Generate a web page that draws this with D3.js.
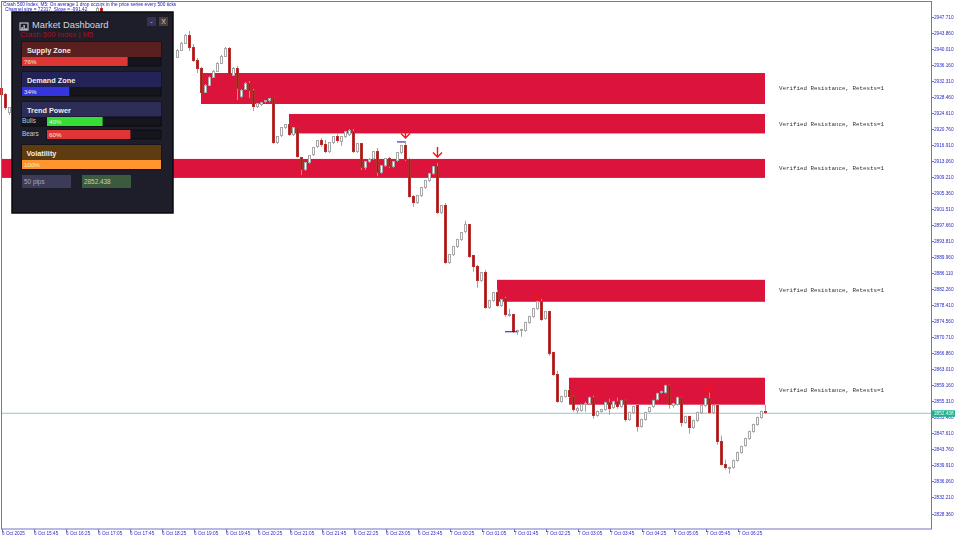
<!DOCTYPE html>
<html>
<head>
<meta charset="utf-8">
<style>
  html, body { margin: 0; padding: 0; background: #fff; }
  svg { display: block; font-family: "Liberation Sans", sans-serif; filter: blur(0.3px); }
  .axis path, .axis line { stroke: #7272c6; shape-rendering: crispEdges; }
  .axis text { fill: #2a2ac0; font-size: 4.7px; font-family: "Liberation Sans", sans-serif; }
</style>
<script src="https://cdnjs.cloudflare.com/ajax/libs/d3/7.8.5/d3.min.js"></script>
</head>
<body>
<svg id="chart" width="960" height="540"></svg>
<script>
// candles, the ones hidden behind the panel are left out
const barIndex = [0, 1, 2, 24, 25].concat(d3.range(44, 192));
const barOpen = [2930.58,2928.90,2924.58,2948.82,2949.78,
  2938.02,2939.70,2941.38,2943.30,2940.42,2937.30,2935.38,2929.62,2931.30,2933.22,
  2934.66,2936.58,2938.26,2940.18,2933.70,2935.38,2928.42,2930.34,2931.78,2930.10,
  2926.02,2926.50,2927.22,2927.46,2928.18,2917.38,2919.06,2920.98,2921.70,2919.30,
  2920.98,2913.78,2910.90,2912.58,2914.50,2916.42,2917.86,2916.90,2915.22,2917.38,
  2918.82,2917.62,2918.82,2919.30,2920.02,2915.22,2917.14,2911.38,2912.82,2913.54,
  2915.22,2910.18,2911.86,2913.54,2911.62,2913.06,2914.98,2916.66,2913.30,2904.42,
  2902.98,2904.66,2906.58,2908.26,2909.94,2911.62,2900.58,2902.26,2888.58,2890.50,
  2892.42,2894.10,2896.02,2897.70,2890.26,2887.62,2884.26,2886.18,2877.78,2879.46,
  2881.38,2878.26,2879.94,2875.86,2876.10,2872.02,2872.26,2872.26,2874.18,2875.62,
  2877.54,2879.22,2875.14,2876.82,2866.98,2861.70,2855.22,2856.42,2857.86,2856.42,
  2853.06,2853.06,2854.50,2854.74,2856.18,2851.86,2852.82,2853.30,2854.98,2853.78,
  2855.22,2854.02,2855.46,2850.90,2852.58,2854.26,2849.22,2850.90,2852.82,2854.02,
  2855.70,2857.38,2857.38,2859.06,2854.26,2854.50,2856.18,2850.18,2851.62,2848.98,
  2850.66,2852.58,2854.26,2855.94,2852.58,2854.26,2845.62,2840.10,2839.14,2839.38,
  2841.06,2842.98,2844.66,2846.34,2848.02,2849.70,2851.38,2852.82];
const barHigh = [2931.06,2929.38,2926.02,2950.02,2950.26,
  2939.94,2941.62,2943.54,2944.26,2941.14,2937.78,2935.62,2931.54,2933.46,2934.90,
  2936.82,2938.50,2940.42,2940.42,2935.62,2935.86,2930.34,2932.02,2932.26,2930.34,
  2926.98,2927.22,2927.70,2928.18,2928.42,2919.06,2921.22,2921.94,2921.94,2921.22,
  2921.22,2914.02,2912.82,2914.50,2916.42,2918.10,2918.58,2918.10,2917.62,2919.06,
  2919.54,2919.06,2920.26,2920.74,2920.74,2917.38,2917.38,2913.06,2913.78,2915.46,
  2916.18,2912.10,2913.78,2914.02,2913.06,2915.22,2916.90,2917.86,2913.78,2904.90,
  2904.90,2906.82,2908.50,2910.18,2911.86,2912.58,2902.50,2902.98,2890.74,2892.66,
  2894.34,2896.02,2898.66,2897.94,2890.50,2888.10,2886.42,2886.90,2879.70,2881.62,
  2882.10,2879.94,2880.42,2877.54,2876.34,2872.50,2872.74,2874.42,2875.86,2877.78,
  2879.46,2879.94,2877.06,2877.06,2867.22,2862.66,2856.66,2858.10,2858.10,2856.66,
  2854.02,2854.74,2855.22,2856.42,2856.66,2853.06,2853.54,2855.22,2855.94,2855.46,
  2856.18,2855.70,2855.70,2852.82,2854.26,2854.50,2851.14,2852.82,2854.02,2855.70,
  2857.38,2857.86,2859.30,2859.30,2854.98,2856.42,2856.42,2851.86,2851.86,2850.90,
  2852.82,2854.50,2856.18,2857.38,2854.50,2854.50,2847.06,2841.30,2839.62,2841.30,
  2843.22,2844.66,2846.58,2848.26,2849.94,2851.62,2853.06,2854.50];
const barLow = [2928.66,2925.30,2924.10,2948.58,2948.58,
  2937.78,2939.46,2941.14,2939.46,2936.82,2934.18,2929.38,2929.38,2931.06,2932.98,
  2934.42,2936.34,2938.02,2933.46,2933.46,2927.70,2928.18,2930.10,2928.18,2925.06,
  2925.78,2926.26,2926.98,2927.22,2917.14,2917.14,2918.82,2920.74,2919.06,2919.06,
  2913.78,2909.70,2910.66,2912.34,2914.26,2916.18,2916.42,2914.98,2914.98,2917.14,
  2917.38,2916.66,2918.58,2919.06,2914.98,2914.98,2910.90,2910.90,2912.58,2913.30,
  2909.46,2909.94,2911.62,2911.38,2911.38,2912.82,2914.74,2913.06,2904.18,2902.02,
  2902.74,2904.42,2906.34,2908.02,2909.70,2900.34,2900.34,2888.34,2888.34,2890.26,
  2892.18,2893.86,2895.78,2889.78,2886.42,2882.58,2884.02,2877.54,2877.54,2879.22,
  2878.02,2878.02,2875.62,2875.62,2871.78,2871.30,2870.82,2872.02,2873.94,2875.38,
  2877.30,2874.66,2874.90,2866.26,2861.46,2854.98,2854.98,2856.18,2856.18,2852.82,
  2852.34,2852.82,2852.82,2854.50,2851.14,2851.62,2852.58,2853.06,2852.10,2853.54,
  2853.54,2853.78,2850.42,2850.66,2852.34,2848.02,2848.98,2850.66,2852.58,2853.78,
  2855.46,2857.14,2857.14,2853.54,2853.78,2854.26,2849.22,2849.94,2847.54,2848.74,
  2850.42,2852.34,2854.02,2852.34,2852.34,2844.90,2839.86,2838.90,2837.94,2839.14,
  2840.82,2842.74,2844.42,2846.10,2847.78,2849.46,2851.14,2852.34];
const barClose = [2928.90,2925.78,2925.78,2949.78,2948.82,
  2939.70,2941.38,2943.30,2940.42,2937.30,2935.38,2929.62,2931.30,2933.22,2934.66,
  2936.58,2938.26,2940.18,2933.70,2935.38,2930.58,2930.10,2931.78,2930.10,2926.02,
  2926.74,2926.98,2927.46,2927.94,2917.38,2918.82,2920.98,2921.70,2919.30,2920.98,
  2914.02,2910.90,2912.58,2914.26,2916.18,2917.86,2916.90,2915.22,2917.38,2918.82,
  2917.86,2918.82,2920.02,2920.26,2915.22,2917.14,2911.38,2912.82,2913.30,2915.22,
  2910.18,2911.86,2913.54,2911.62,2912.82,2914.98,2916.66,2913.30,2904.42,2902.98,
  2904.66,2906.58,2908.26,2909.94,2911.62,2900.58,2902.26,2888.58,2890.50,2892.42,
  2894.10,2895.78,2897.70,2890.02,2887.62,2884.26,2886.18,2877.78,2879.46,2881.38,
  2878.26,2879.70,2876.10,2876.10,2872.02,2872.26,2872.50,2874.18,2875.62,2877.54,
  2879.22,2874.90,2876.82,2866.74,2861.70,2855.22,2856.42,2857.86,2856.42,2853.30,
  2853.54,2854.50,2854.74,2856.18,2851.86,2852.82,2853.30,2854.98,2853.54,2855.22,
  2854.02,2855.46,2850.90,2852.58,2854.02,2849.22,2850.90,2852.58,2853.78,2855.46,
  2857.14,2857.62,2859.06,2854.50,2854.74,2856.18,2850.18,2851.62,2848.98,2850.66,
  2852.58,2854.26,2855.94,2852.58,2854.26,2845.62,2840.10,2839.38,2839.38,2841.06,
  2842.98,2844.42,2846.34,2848.02,2849.70,2851.38,2852.82,2852.58];

// resistance zones
const zoneStart = [50, 72, 0, 124, 142];
const zoneTop = [2934.18, 2924.34, 2913.54, 2884.50, 2860.98];
const zoneBottom = [2926.74, 2919.66, 2908.98, 2879.22, 2854.50];
const zoneLabels = ['Verified Resistance, Retests=1', 'Verified Resistance, Retests=1',
  'Verified Resistance, Retests=1', 'Verified Resistance, Retests=1', 'Verified Resistance, Retests=1'];
const zoneLabelPrice = [2930.22, 2921.34, 2910.77, 2881.46, 2857.44];

// sell arrows and the short blue lines
const arrowBar = [101, 109, 134, 177];
const arrowPrice = [2920.98, 2916.42, 2882.30, 2860.20];
const dashFrom = [99, 126];
const dashTo = [101, 129];
const dashPrice = [2917.62, 2872.02];

const bidPrice = 2852.438;

const priceTicks = [2947.71, 2943.86, 2940.01, 2936.16, 2932.31, 2928.46, 2924.61, 2920.76,
  2916.91, 2913.06, 2909.21, 2905.36, 2901.51, 2897.66, 2893.81, 2889.96, 2886.11, 2882.26,
  2878.41, 2874.56, 2870.71, 2866.86, 2863.01, 2859.16, 2855.31, 2851.46, 2847.61, 2843.76,
  2839.91, 2836.06, 2832.21, 2828.36];
const timeTickBars = d3.range(0, 192, 8);
const timeLabels = ['6 Oct 2025', '6 Oct 15:45', '6 Oct 16:25', '6 Oct 17:05', '6 Oct 17:45',
  '6 Oct 18:25', '6 Oct 19:05', '6 Oct 19:45', '6 Oct 20:25', '6 Oct 21:05', '6 Oct 21:45',
  '6 Oct 22:25', '6 Oct 23:05', '6 Oct 23:45', '7 Oct 00:25', '7 Oct 01:05', '7 Oct 01:45',
  '7 Oct 02:25', '7 Oct 03:05', '7 Oct 03:45', '7 Oct 04:25', '7 Oct 05:05', '7 Oct 05:45',
  '7 Oct 06:25'];

// dashboard panel
const gaugeNames = ['Supply Zone', 'Demand Zone', 'Trend Power', 'Volatility'];
const gaugeValues = [76, 34, null, 100];
const trendNames = ['Bulls', 'Bears'];
const trendValues = [40, 60];

const svg = d3.select('#chart');
const x = d3.scaleLinear().domain([0, 191]).range([1, 765]);
const y = d3.scaleLinear().domain([2947.71, 2828.36]).range([16.7, 513.5]);

const zones = d3.range(zoneStart.length).map(i => ({
  start: zoneStart[i], top: zoneTop[i], bottom: zoneBottom[i], label: zoneLabels[i], labelPrice: zoneLabelPrice[i]
}));
const bars = barIndex.map((b, i) => ({
  bar: b, open: barOpen[i], high: barHigh[i], low: barLow[i], close: barClose[i]
}));

svg.append('g').selectAll('rect')
  .data(zones)
  .enter()
  .append('rect')
  .attr('x', d => x(d.start))
  .attr('y', d => y(d.top))
  .attr('width', d => x(191) - x(d.start))
  .attr('height', d => y(d.bottom) - y(d.top))
  .attr('fill', '#dc143c');

svg.append('g').selectAll('text')
  .data(zones)
  .enter()
  .append('text')
  .attr('x', x(191) + 14)
  .attr('y', d => y(d.labelPrice))
  .attr('fill', '#333')
  .attr('font-family', '"Liberation Mono", monospace')
  .attr('font-size', 5.83)
  .text(d => d.label);

svg.append('line')
  .attr('x1', 2).attr('x2', 932)
  .attr('y1', y(bidPrice)).attr('y2', y(bidPrice))
  .attr('stroke', '#8ec9c9');

const candles = svg.append('g').selectAll('g')
  .data(bars)
  .enter()
  .append('g');

candles.append('line')
  .attr('x1', d => x(d.bar) + 0.5)
  .attr('x2', d => x(d.bar) + 0.5)
  .attr('y1', d => y(d.high))
  .attr('y2', d => y(d.low))
  .attr('stroke', '#a0a0a0');

candles.append('rect')
  .attr('x', d => x(d.bar) - 1)
  .attr('y', d => y(Math.max(d.open, d.close)))
  .attr('width', 2)
  .attr('height', d => Math.abs(y(d.close) - y(d.open)))
  .attr('fill', d => d.close < d.open ? '#c00c12' : '#fff')
  .attr('stroke', d => d.close < d.open ? '#b83030' : '#a8a8a8')
  .attr('shape-rendering', 'crispEdges');

svg.append('g').selectAll('line')
  .data(dashPrice)
  .enter()
  .append('line')
  .attr('x1', (d, i) => x(dashFrom[i]))
  .attr('x2', (d, i) => x(dashTo[i]))
  .attr('y1', d => y(d))
  .attr('y2', d => y(d))
  .attr('stroke', '#14149a')
  .attr('stroke-width', 1);

svg.append('g').selectAll('path')
  .data(arrowPrice)
  .enter()
  .append('path')
  .attr('transform', (d, i) => `translate(${x(arrowBar[i]) + 0.5},${y(d)})`)
  .attr('d', 'M0,0V10M-4.5,5.5L0,10L4.5,5.5')
  .attr('fill', 'none')
  .attr('stroke', '#f01515')
  .attr('stroke-width', 1.4);

// frame and axes
svg.append('rect')
  .attr('x', 1.5).attr('y', 1.5)
  .attr('width', 930).attr('height', 527.5)
  .attr('fill', 'none')
  .attr('stroke', '#7272c6');

const priceAxis = d3.axisRight(y)
  .tickValues(priceTicks)
  .tickSize(2)
  .tickPadding(0.5)
  .tickFormat(d3.format('.3f'));
svg.append('g')
  .attr('class', 'axis')
  .attr('transform', 'translate(931.5,0)')
  .call(priceAxis)
  .call(g => g.select('.domain').remove());

const timeAxis = d3.axisBottom(x)
  .tickValues(timeTickBars)
  .tickSize(3)
  .tickFormat((d, i) => timeLabels[i]);
svg.append('g')
  .attr('class', 'axis')
  .attr('transform', 'translate(0.5,529)')
  .call(timeAxis)
  .call(g => g.select('.domain').remove())
  .selectAll('text')
  .attr('text-anchor', 'start')
  .attr('y', 3);

// current price tag
svg.append('rect')
  .attr('x', 932).attr('y', y(bidPrice) - 3)
  .attr('width', 23).attr('height', 6.5)
  .attr('fill', '#20b08e');
svg.append('text')
  .attr('x', 934).attr('y', y(bidPrice) + 1.7)
  .attr('fill', '#e8fff8')
  .attr('font-size', 4.7)
  .text(d3.format('.3f')(bidPrice));

// header lines
svg.append('text')
  .attr('x', 3).attr('y', 6)
  .attr('fill', '#2020b8')
  .attr('font-size', 4.75)
  .text('Crash 500 Index, M5:  On average 1 drop occurs in the price series every 500 ticks');
svg.append('text')
  .attr('x', 5).attr('y', 11)
  .attr('fill', '#2020b8')
  .attr('font-size', 4.75)
  .text('Channel size = 72317, Slope = -991.42');

// dashboard
const panel = svg.append('g').attr('transform', 'translate(12,12)');
panel.append('rect')
  .attr('x', 0).attr('y', 0).attr('width', 161).attr('height', 201)
  .attr('fill', '#1e1e2b')
  .attr('stroke', '#0a0a0e')
  .attr('stroke-width', 1.5);

panel.append('rect').attr('x', 8).attr('y', 11).attr('width', 8).attr('height', 7)
  .attr('fill', 'none').attr('stroke', '#d8d8e0');
panel.selectAll('.icon-bar')
  .data([3, 5, 2])
  .enter()
  .append('rect')
  .attr('class', 'icon-bar')
  .attr('x', (d, i) => 9.5 + i * 2)
  .attr('y', d => 18 - d)
  .attr('width', 1.2)
  .attr('height', d => d)
  .attr('fill', '#d8d8e0');

panel.append('text').attr('x', 20).attr('y', 16)
  .attr('fill', '#d4d4de').attr('font-size', 9.3).text('Market Dashboard');
panel.append('text').attr('x', 8).attr('y', 25)
  .attr('fill', '#a3121f').attr('font-size', 7.7).text('Crash 500 Index | M5');

panel.append('rect').attr('x', 135).attr('y', 5).attr('width', 9).attr('height', 9).attr('fill', '#33335a');
panel.append('text').attr('x', 139.5).attr('y', 12).attr('text-anchor', 'middle')
  .attr('fill', '#ccc').attr('font-size', 7).text('-');
panel.append('rect').attr('x', 147).attr('y', 5).attr('width', 9).attr('height', 9).attr('fill', '#4d3a3a');
panel.append('text').attr('x', 151.5).attr('y', 12).attr('text-anchor', 'middle')
  .attr('fill', '#ccc').attr('font-size', 7).text('X');

const gaugeY = [30, 60, 90, 133];
const headColors = ['#5a2020', '#232358', '#2d2d58', '#5f3c10'];
const barColors = ['#e03535', '#3535e0', null, '#ff9430'];
const gaugeWidth = d3.scaleLinear().domain([0, 100]).range([0, 139]);

const gauges = panel.selectAll('.gauge')
  .data(gaugeNames)
  .enter()
  .append('g')
  .attr('class', 'gauge')
  .attr('transform', (d, i) => `translate(10,${gaugeY[i]})`);

gauges.append('rect')
  .attr('width', 139).attr('height', 24)
  .attr('fill', '#15151d').attr('stroke', '#0d0d12');
gauges.append('rect')
  .attr('width', 139).attr('height', 15)
  .attr('fill', (d, i) => headColors[i]);
gauges.append('text')
  .attr('x', (d, i) => i === 3 ? 4.5 : 5)
  .attr('y', 11)
  .attr('fill', '#eee')
  .attr('font-size', 7.3)
  .attr('font-weight', 'bold')
  .text(d => d);
gauges.filter((d, i) => gaugeValues[i] !== null)
  .append('rect')
  .attr('y', 15)
  .attr('height', 9)
  .attr('width', d => gaugeWidth(gaugeValues[gaugeNames.indexOf(d)]))
  .attr('fill', d => barColors[gaugeNames.indexOf(d)]);
gauges.filter((d, i) => gaugeValues[i] !== null)
  .append('text')
  .attr('x', 2)
  .attr('y', 22)
  .attr('fill', '#eed')
  .attr('font-size', 6.2)
  .text(d => gaugeValues[gaugeNames.indexOf(d)] + '%');

// bulls and bears rows
const trendY = [105, 118];
const trendColors = ['#35dd35', '#e03535'];
const trend = panel.selectAll('.trend')
  .data(trendNames)
  .enter()
  .append('g')
  .attr('class', 'trend')
  .attr('transform', (d, i) => `translate(10,${trendY[i]})`);
trend.append('text')
  .attr('y', 5.5)
  .attr('fill', '#c8c8d0')
  .attr('font-size', 6.4)
  .text(d => d);
trend.append('rect')
  .attr('x', 25).attr('width', 114).attr('height', 9)
  .attr('fill', '#15151d').attr('stroke', '#0d0d12');
trend.append('rect')
  .attr('x', 25)
  .attr('height', 9)
  .attr('width', (d, i) => gaugeWidth(trendValues[i]))
  .attr('fill', (d, i) => trendColors[i]);
trend.append('text')
  .attr('x', 27)
  .attr('y', 7)
  .attr('fill', '#eed')
  .attr('font-size', 6.2)
  .text((d, i) => trendValues[i] + '%');

panel.append('rect').attr('x', 10).attr('y', 163).attr('width', 49).attr('height', 13).attr('fill', '#3c3c58');
panel.append('text').attr('x', 12).attr('y', 171.5).attr('fill', '#a8a8b8').attr('font-size', 6.4).text('50 pips');
panel.append('rect').attr('x', 70).attr('y', 163).attr('width', 49).attr('height', 13).attr('fill', '#3c5a3c');
panel.append('text').attr('x', 72).attr('y', 171.5).attr('fill', '#c0d0c0').attr('font-size', 6.4).text('2852.438');
</script>
</body>
</html>
